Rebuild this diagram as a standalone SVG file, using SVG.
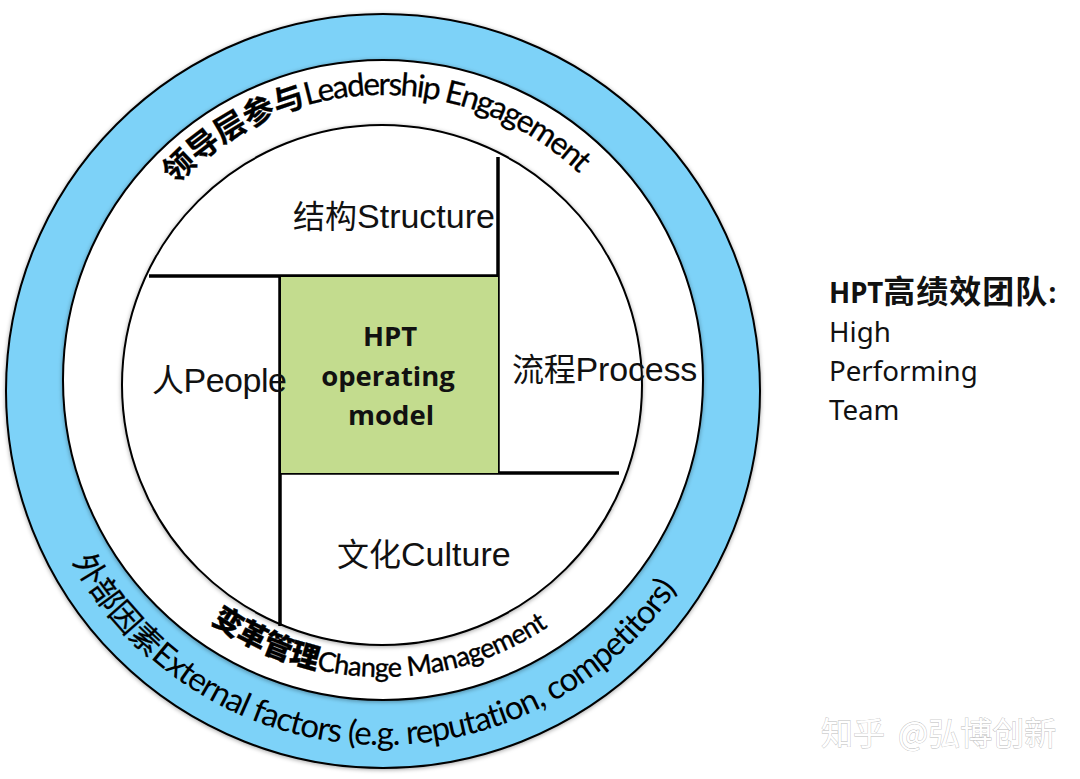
<svg xmlns="http://www.w3.org/2000/svg" width="1080" height="779" viewBox="0 0 1080 779">
<style>
.ring{stroke:#000;stroke-width:2}
.bar{stroke:#000;stroke-width:3.5;fill:none}
.lab{font-family:"Liberation Sans","Noto Sans CJK SC",sans-serif;font-size:34px;fill:#111}
.cjk{font-size:32px}
.arc{font-family:Lato,"Noto Sans CJK SC",sans-serif;fill:#000}
.side{font-family:"Noto Sans","Noto Sans CJK SC",sans-serif;font-size:27.7px;fill:#111}
.hpt{font-family:"Open Sans","Noto Sans CJK SC",sans-serif;font-size:27.5px;font-weight:700;fill:#111;text-anchor:middle}
</style>
<defs>
<filter id="sh" x="-5%" y="-5%" width="110%" height="110%"><feDropShadow dx="0" dy="1" stdDeviation="2" flood-color="#000" flood-opacity=".35"/></filter>
<path id="pLead" d="M154,211 A284,284 0 0 1 612,211" fill="none"/>
<path id="pChange" d="M192,607.5 A297,297 0 0 0 574,607.5" fill="none"/>
<path id="pExt" d="M70.4,557.2 A354,354 0 0 0 695.6,557.2" fill="none"/>
</defs>
<rect width="1080" height="779" fill="#fff"/>
<g id="outer-ring"><circle class="ring" cx="383" cy="391" r="377" fill="#7dd2f8" filter="url(#sh)"/></g>
<g id="middle-ring"><circle class="ring" cx="383" cy="380" r="320" fill="#fff" filter="url(#sh)"/></g>
<g id="inner-ring"><circle class="ring" cx="382" cy="385" r="260" fill="#fff" filter="url(#sh)"/></g>
<g id="connectors">
<path class="bar" d="M498,157V473"/>
<path class="bar" d="M149,276H498"/>
<path class="bar" d="M280,276V626"/>
<path class="bar" d="M280,473H619"/>
</g>
<g id="core"><rect x="281" y="277" width="217" height="196" fill="#c3dc8e"/>
<text class="hpt"><tspan x="390" y="346">HPT</tspan><tspan x="388" y="386">operating</tspan><tspan x="391" y="425">model</tspan></text></g>
<g id="structure"><text class="lab" x="293" y="228"><tspan class="cjk">结构</tspan>Structure</text></g>
<g id="people"><text class="lab" x="152" y="392" letter-spacing="-.5"><tspan class="cjk">人</tspan>People</text></g>
<g id="process"><text class="lab" x="512" y="381" letter-spacing="-.2"><tspan class="cjk">流程</tspan>Process</text></g>
<g id="culture"><text class="lab" x="337" y="566"><tspan class="cjk">文化</tspan>Culture</text></g>
<g id="leadership"><text class="arc" font-size="31.5" letter-spacing="-1.75" stroke="#000" stroke-width=".3"><textPath href="#pLead" startOffset="34"><tspan font-size="31" font-weight="700" letter-spacing="0">领导层参与</tspan>Leadership Engagement</textPath></text></g>
<g id="change"><text class="arc" font-size="27" letter-spacing="-.6" stroke="#000" stroke-width=".4"><textPath href="#pChange" startOffset="24"><tspan font-size="29" font-weight="900" letter-spacing="0">变革管理</tspan>Change Management</textPath></text></g>
<g id="external"><text class="arc" font-size="33" letter-spacing="-1.1"><textPath href="#pExt" startOffset="5"><tspan font-size="31" letter-spacing="0" stroke="#000" stroke-width=".3">外部因素</tspan>External factors (e.g. reputation, competitors)</textPath></text></g>
<g id="hpt-note"><text class="side"><tspan x="829" y="303" font-weight="700">HPT<tspan font-size="32" letter-spacing="1">高绩效团队</tspan>:</tspan><tspan x="829" y="342">High</tspan><tspan x="829" y="381">Performing</tspan><tspan x="829" y="420">Team</tspan></text></g>
<g id="watermark"><text y="745" font-family="'Noto Sans CJK SC',sans-serif" font-size="32" fill="#fff" stroke="#bbb" stroke-width=".8" style="paint-order:stroke"><tspan x="821">知乎</tspan><tspan x="898">@弘博创新</tspan></text></g>
</svg>
